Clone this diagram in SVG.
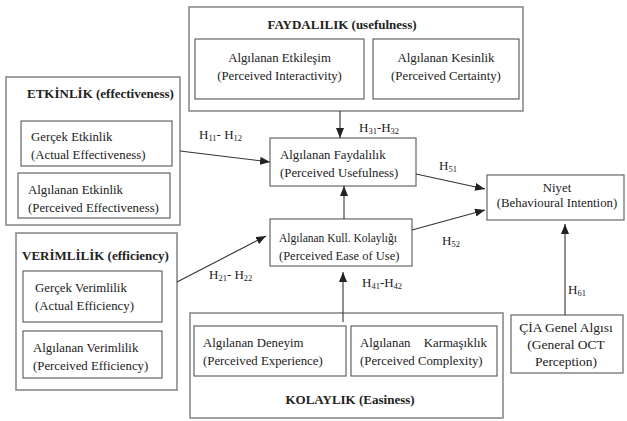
<svg xmlns="http://www.w3.org/2000/svg" width="627" height="421" viewBox="0 0 627 421">
<style>
text{font-family:"Liberation Serif","Times New Roman",serif;fill:#222;}
.t{font-size:12.8px;}
.s{font-size:11.5px;}
.s2{font-size:12.5px;}
.b{font-size:13px;font-weight:bold;}
.c{font-size:13.5px;}
.h{font-size:13px;}
.sub{font-size:8.5px;}
.outer{fill:#fff;stroke:#8a8a8a;stroke-width:1.6;}
.inner{fill:#fff;stroke:#555;stroke-width:1.1;}
.box{fill:#fff;stroke:#666;stroke-width:1.2;}
.con line{stroke:#333;stroke-width:1.1;marker-end:url(#ah);}
</style>
<defs>
<marker id="ah" markerUnits="userSpaceOnUse" markerWidth="10" markerHeight="8" refX="10" refY="4" orient="auto">
<path d="M0,0 L10,4 L0,8 z" fill="#222"/>
</marker>
</defs>
<rect width="627" height="421" fill="#fff"/>

<g id="faydalilik">
<rect class="outer" x="189" y="7" width="334" height="104"/>
<text class="b" x="342" y="29" text-anchor="middle">FAYDALILIK (usefulness)</text>
<rect class="inner" x="195" y="39" width="169" height="60"/>
<text class="t" x="279.5" y="62" text-anchor="middle">Algılanan Etkileşim</text>
<text class="t" x="279.5" y="80" text-anchor="middle">(Perceived Interactivity)</text>
<rect class="inner" x="373" y="39" width="146" height="60"/>
<text class="t" x="446" y="62" text-anchor="middle">Algılanan Kesinlik</text>
<text class="t" x="446" y="80" text-anchor="middle">(Perceived Certainty)</text>
</g>

<g id="etkinlik">
<rect class="outer" x="6" y="77" width="174" height="148"/>
<text class="b" x="27" y="98">ETKİNLİK  (effectiveness)</text>
<rect class="inner" x="21" y="121" width="151" height="45"/>
<text class="t" x="31" y="141">Gerçek Etkinlik</text>
<text class="t" x="31" y="159">(Actual Effectiveness)</text>
<rect class="inner" x="18" y="173" width="152" height="45"/>
<text class="t" x="28" y="194">Algılanan Etkinlik</text>
<text class="t" x="28" y="212">(Perceived Effectiveness)</text>
</g>

<g id="verimlilik">
<rect class="outer" x="16" y="233" width="161" height="157"/>
<text class="b" x="22" y="260">VERİMLİLİK  (efficiency)</text>
<rect class="inner" x="23" y="271" width="139" height="51"/>
<text class="t" x="35" y="292">Gerçek Verimlilik</text>
<text class="t" x="35" y="310">(Actual Efficiency)</text>
<rect class="inner" x="23" y="331" width="139" height="47"/>
<text class="t" x="33" y="352">Algılanan Verimlilik</text>
<text class="t" x="33" y="370">(Perceived Efficiency)</text>
</g>

<g id="kolaylik">
<rect class="outer" x="190" y="313" width="313" height="105"/>
<rect class="inner" x="194" y="326" width="152" height="50"/>
<text class="t" x="203" y="347">Algılanan Deneyim</text>
<text class="t" x="203" y="365">(Perceived Experience)</text>
<rect class="inner" x="351" y="326" width="146" height="50"/>
<text class="t" x="360" y="347">Algılanan</text>
<text class="t" x="487" y="347" text-anchor="end">Karmaşıklık</text>
<text class="t" x="360" y="365">(Perceived Complexity)</text>
<text class="b" x="350" y="404" text-anchor="middle">KOLAYLIK (Easiness)</text>
</g>

<g id="usefulness">
<rect class="box" x="270" y="138" width="146" height="48"/>
<text class="t" x="280" y="159">Algılanan Faydalılık</text>
<text class="t" x="280" y="177">(Perceived Usefulness)</text>
</g>

<g id="ease">
<rect class="box" x="270" y="219" width="142" height="47"/>
<text class="s" x="279" y="242">Algılanan Kull. Kolaylığı</text>
<text class="s2" x="279" y="260">(Perceived Ease of Use)</text>
</g>

<g id="niyet">
<rect class="box" x="487" y="175" width="137" height="45"/>
<text class="t" x="557" y="192" text-anchor="middle">Niyet</text>
<text class="t" x="557" y="207" text-anchor="middle">(Behavioural Intention)</text>
</g>

<g id="cia">
<rect class="box" x="511" y="315" width="112" height="58"/>
<text class="c" x="566" y="332" text-anchor="middle">ÇİA Genel Algısı</text>
<text class="c" x="566" y="349" text-anchor="middle">(General OCT</text>
<text class="c" x="566" y="366" text-anchor="middle">Perception)</text>
</g>

<g id="connectors" class="con">
<line x1="340" y1="111" x2="340" y2="138"/>
<line x1="180" y1="151" x2="270" y2="162"/>
<line x1="177" y1="282" x2="266" y2="236"/>
<line x1="344" y1="219" x2="344" y2="186"/>
<line x1="343" y1="322" x2="343" y2="272"/>
<line x1="416" y1="174" x2="485" y2="189"/>
<line x1="412" y1="230" x2="485" y2="210"/>
<line x1="565" y1="315" x2="565" y2="224"/>
</g>

<g id="labels">
<text class="h" x="199" y="139">H<tspan class="sub" dy="2">11</tspan><tspan dy="-2">- H</tspan><tspan class="sub" dy="2">12</tspan></text>
<text class="h" x="359" y="132">H<tspan class="sub" dy="2">31</tspan><tspan dy="-2">-H</tspan><tspan class="sub" dy="2">32</tspan></text>
<text class="h" x="439" y="170">H<tspan class="sub" dy="2">51</tspan></text>
<text class="h" x="442" y="245">H<tspan class="sub" dy="2">52</tspan></text>
<text class="h" x="209" y="279">H<tspan class="sub" dy="2">21</tspan><tspan dy="-2">- H</tspan><tspan class="sub" dy="2">22</tspan></text>
<text class="h" x="362" y="287">H<tspan class="sub" dy="2">41</tspan><tspan dy="-2">-H</tspan><tspan class="sub" dy="2">42</tspan></text>
<text class="h" x="568" y="294">H<tspan class="sub" dy="2">61</tspan></text>
</g>
</svg>
